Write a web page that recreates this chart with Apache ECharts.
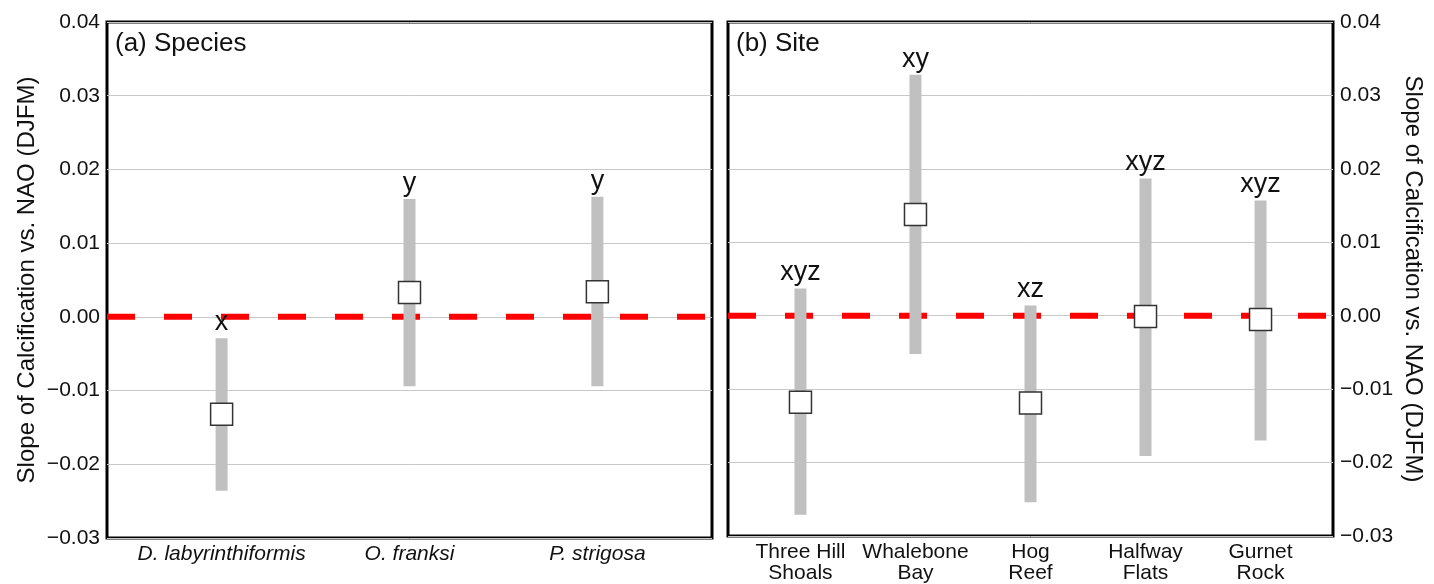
<!DOCTYPE html>
<html>
<head>
<meta charset="utf-8">
<script src="https://cdn.jsdelivr.net/npm/echarts@6/dist/echarts.min.js"></script>
<style>html,body{margin:0;padding:0;background:#fff;}#c{width:1434px;height:584px;}</style>
</head>
<body>
<div id="c"></div>
<script>
var speciesNames = ['D. labyrinthiformis', 'O. franksi', 'P. strigosa'];
var speciesMean = [-0.0132, 0.0033, 0.0034];
var speciesLow = [-0.0236, -0.0094, -0.0094];
var speciesHigh = [-0.0029, 0.0160, 0.0163];
var speciesLetters = ['x', 'y', 'y'];

var siteNames = ['Three Hill\nShoals', 'Whalebone\nBay', 'Hog\nReef', 'Halfway\nFlats', 'Gurnet\nRock'];
var siteMean = [-0.0118, 0.0138, -0.0119, -0.0001, -0.0005];
var siteLow = [-0.0271, -0.0052, -0.0254, -0.0191, -0.0170];
var siteHigh = [0.0037, 0.0328, 0.0014, 0.0187, 0.0157];
var siteLetters = ['xyz', 'xy', 'xz', 'xyz', 'xyz'];

var yTicks = [-0.03, -0.02, -0.01, 0.00, 0.01, 0.02, 0.03, 0.04];
var axisTitle = 'Slope of Calcification vs. NAO (DJFM)';

var FONT = '"Liberation Sans", Arial, Helvetica, sans-serif';

function fmtY(v) {
  var r = Math.round(v * 1000) / 1000;
  return (r < 0 ? '\u2212' : '') + Math.abs(r).toFixed(2);
}

function errData(low, high) {
  return low.map(function (l, i) { return [i + 1, l, high[i]]; });
}
function meanData(mean) {
  return mean.map(function (m, i) { return [i + 1, m]; });
}
function errRender(letters) {
  return function (params, api) {
    var x = api.value(0), lo = api.value(1), hi = api.value(2);
    var p1 = api.coord([x, hi]);
    var p2 = api.coord([x, lo]);
    return {
      type: 'group',
      children: [
        { type: 'rect', shape: { x: p1[0] - 6, y: p1[1], width: 12, height: p2[1] - p1[1] }, style: { fill: '#c0c0c0' } },
        { type: 'text', style: { text: letters[params.dataIndex], x: p1[0], y: p1[1] - 2, align: 'center', verticalAlign: 'bottom', font: '27px ' + FONT, fill: '#111' } }
      ]
    };
  };
}

function yAxis(gi, pos) {
  return {
    type: 'value', gridIndex: gi, position: pos,
    min: -0.03, max: 0.04, interval: 0.01,
    name: axisTitle, nameLocation: 'middle', nameGap: 68,
    nameRotate: pos === 'left' ? 90 : -90,
    nameTextStyle: { fontFamily: FONT, fontSize: 24, color: '#111' },
    axisLine: { show: false }, axisTick: { show: false },
    axisLabel: { formatter: fmtY, fontFamily: FONT, fontSize: 21, color: '#111', margin: 7 },
    splitLine: { show: true, lineStyle: { color: '#c8c8c8', width: 1 } }
  };
}
function xAxis(gi, n, names, min, max, italic) {
  var vals = [];
  for (var i = 1; i <= n; i++) vals.push(i);
  return {
    type: 'value', gridIndex: gi, min: min, max: max,
    axisLine: { show: false }, axisTick: { show: false }, splitLine: { show: false },
    axisLabel: {
      customValues: vals, hideOverlap: false,
      formatter: function (v) { return names[Math.round(v) - 1] || ''; },
      fontFamily: FONT, fontSize: 21, color: '#111', margin: 6, lineHeight: 21,
      fontStyle: italic ? 'italic' : 'normal'
    }
  };
}
function zeroLine(xi, yi, min, max) {
  return {
    type: 'line', xAxisIndex: xi, yAxisIndex: yi, z: 1, silent: true,
    data: [[min, 0], [max, 0]], symbol: 'none',
    lineStyle: { color: '#ff0000', width: 6, type: [28, 29] }
  };
}

var chart = echarts.init(document.getElementById('c'));
chart.setOption({
  animation: false,
  backgroundColor: '#fff',
  title: [
    { text: '(a) Species', left: 115, top: 31, padding: 0, textStyle: { fontFamily: FONT, fontSize: 26, fontWeight: 'normal', color: '#111' } },
    { text: '(b) Site', left: 736, top: 31, padding: 0, textStyle: { fontFamily: FONT, fontSize: 26, fontWeight: 'normal', color: '#111' } }
  ],
  grid: [
    { left: 107, top: 22, width: 605, height: 516, show: true, borderColor: '#000', borderWidth: 3, backgroundColor: 'transparent' },
    { left: 728, top: 22, width: 605, height: 516, show: true, borderColor: '#000', borderWidth: 3, backgroundColor: 'transparent' }
  ],
  xAxis: [
    xAxis(0, 3, speciesNames, 0.39, 3.61, true),
    xAxis(1, 5, siteNames, 0.37, 5.63, false)
  ],
  yAxis: [yAxis(0, 'left'), yAxis(1, 'right')],
  series: [
    zeroLine(0, 0, 0.39, 3.61),
    zeroLine(1, 1, 0.37, 5.63),
    { type: 'custom', xAxisIndex: 0, yAxisIndex: 0, z: 3, silent: true, renderItem: errRender(speciesLetters), encode: { x: 0, y: [1, 2] }, data: errData(speciesLow, speciesHigh) },
    { type: 'custom', xAxisIndex: 1, yAxisIndex: 1, z: 3, silent: true, renderItem: errRender(siteLetters), encode: { x: 0, y: [1, 2] }, data: errData(siteLow, siteHigh) },
    { type: 'scatter', xAxisIndex: 0, yAxisIndex: 0, z: 5, silent: true, symbol: 'rect', symbolSize: 22, itemStyle: { color: '#fff', borderColor: '#333', borderWidth: 1.5, opacity: 1 }, data: meanData(speciesMean) },
    { type: 'scatter', xAxisIndex: 1, yAxisIndex: 1, z: 5, silent: true, symbol: 'rect', symbolSize: 22, itemStyle: { color: '#fff', borderColor: '#333', borderWidth: 1.5, opacity: 1 }, data: meanData(siteMean) }
  ]
});
</script>
</body>
</html>
